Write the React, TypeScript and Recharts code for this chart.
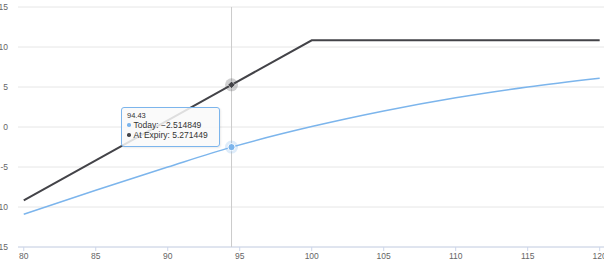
import { CartesianGrid, Line, LineChart, Tooltip, XAxis, YAxis } from 'recharts'

const strikes = [80, 85, 90, 94.43, 100, 105, 110, 115, 120]
const todayValues = [-10.9, -7.9, -5.0, -2.514849, 0.05, 2.0, 3.65, 5.0, 6.1]
const expiryValues = [-9.16, -4.16, 0.84, 5.271449, 10.84, 10.84, 10.84, 10.84, 10.84]
const xTicks = [80, 85, 90, 95, 100, 105, 110, 115, 120]
const yTicks = [-15, -10, -5, 0, 5, 10, 15]

const data = strikes.map((x, i) => ({
  x,
  today: todayValues[i],
  expiry: expiryValues[i],
}))

const BLUE = '#7cb5ec'
const DARK = '#434348'
const FONT = '"Liberation Sans", Arial, sans-serif'

function fmt(v: number) {
  const s = String(v)
  return v < 0 ? '\u2212' + s.slice(1) : s
}

function TooltipBox({ active, payload, label }: any) {
  if (!active || !payload || !payload.length) return null
  const rows = [
    { name: 'Today', color: BLUE, value: payload.find((p: any) => p.dataKey === 'today')?.value },
    { name: 'At Expiry', color: DARK, value: payload.find((p: any) => p.dataKey === 'expiry')?.value },
  ]
  return (
    <div
      style={{
        width: 99,
        height: 40,
        boxSizing: 'border-box',
        background: 'rgba(249,249,249,0.85)',
        border: `1px solid ${BLUE}`,
        borderRadius: 3,
        padding: '3px 5px',
        fontFamily: FONT,
        color: '#333',
        boxShadow: '1px 1px 2px rgba(0,0,0,0.08)',
        whiteSpace: 'nowrap',
      }}
    >
      <div style={{ fontSize: 7.5, lineHeight: '9px', height: 9 }}>{label}</div>
      {rows.map((r) => (
        <div
          key={r.name}
          style={{ fontSize: 8.5, lineHeight: '10px', height: 10, display: 'flex', alignItems: 'center' }}
        >
          <span
            style={{
              display: 'inline-block',
              width: 3.5,
              height: 3.5,
              borderRadius: '50%',
              background: r.color,
              marginRight: 3,
              flex: 'none',
            }}
          />
          <span>
            {r.name}: {fmt(r.value)}
          </span>
        </div>
      ))}
    </div>
  )
}

function TodayDot(props: any) {
  const { cx, cy } = props
  return (
    <g>
      <circle cx={cx} cy={cy} r={6.5} fill={BLUE} fillOpacity={0.25} />
      <circle cx={cx} cy={cy} r={3.6} fill={BLUE} stroke="#fff" strokeWidth={1} />
    </g>
  )
}

function ExpiryDot(props: any) {
  const { cx, cy } = props
  const d = 3.6
  return (
    <g>
      <circle cx={cx} cy={cy} r={6.5} fill={DARK} fillOpacity={0.25} />
      <path
        d={`M${cx} ${cy - d}L${cx + d} ${cy}L${cx} ${cy + d}L${cx - d} ${cy}Z`}
        fill={DARK}
        stroke="#fff"
        strokeWidth={0.5}
      />
    </g>
  )
}

export default function App() {
  const tick = { fontSize: 8.5, fill: '#666', fontFamily: FONT }
  return (
    <div style={{ position: 'absolute', left: 0, top: 0, width: 604, height: 270, background: '#fff' }}>
      <LineChart width={604} height={270} data={data} margin={{ top: 7, right: 0, bottom: 0, left: 0 }}>
        <CartesianGrid vertical={false} stroke="#e6e6e6" />
        <XAxis
          dataKey="x"
          type="number"
          domain={[79.6, 120.3]}
          ticks={xTicks}
          allowDataOverflow
          height={23}
          stroke="#ccd6eb"
          tickSize={4}
          tickMargin={2}
          tick={tick}
          interval={0}
        />
        <YAxis
          type="number"
          domain={[-15, 15]}
          ticks={yTicks}
          width={18}
          axisLine={false}
          tickLine={false}
          tickSize={0}
          tickMargin={10}
          tick={tick}
          interval={0}
        />
        <Tooltip
          defaultIndex={3}
          active
          position={{ x: 121, y: 107 }}
          cursor={{ stroke: '#ccc', strokeWidth: 1 }}
          content={<TooltipBox />}
          isAnimationActive={false}
          wrapperStyle={{ outline: 'none' }}
        />
        <Line
          dataKey="today"
          type="monotone"
          stroke={BLUE}
          strokeWidth={1.5}
          dot={false}
          activeDot={TodayDot}
          isAnimationActive={false}
        />
        <Line
          dataKey="expiry"
          type="linear"
          stroke={DARK}
          strokeWidth={2}
          dot={false}
          activeDot={ExpiryDot}
          isAnimationActive={false}
        />
      </LineChart>
    </div>
  )
}
